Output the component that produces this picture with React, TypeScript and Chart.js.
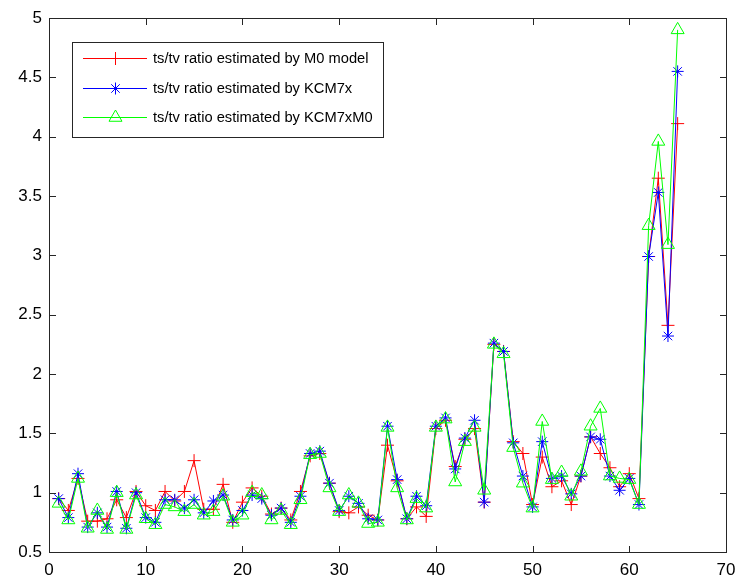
import React, { useEffect, useRef } from "react";
import { Chart, registerables } from "chart.js";

Chart.register(...registerables);

const xValues: number[] = Array.from({ length: 65 }, (_, i) => i + 1);

const seriesLabels: string[] = [
  "ts/tv ratio estimated by M0 model",
  "ts/tv ratio estimated by KCM7x",
  "ts/tv ratio estimated by KCM7xM0",
];

const xTickValues: number[] = [0, 10, 20, 30, 40, 50, 60, 70];
const yTickValues: number[] = [0.5, 1, 1.5, 2, 2.5, 3, 3.5, 4, 4.5, 5];

const redM0: number[] = [
  0.95, 0.85, 1.12, 0.76, 0.76, 0.78, 0.94, 0.79, 1.01, 0.89,
  0.85, 1.01, 0.93, 1.01, 1.27, 0.86, 0.86, 1.07, 0.75, 0.92,
  1.04, 0.97, 0.82, 0.87, 0.77, 1.01, 1.31, 1.33, 1.08, 0.84,
  0.83, 0.88, 0.81, 0.77, 1.40, 1.10, 0.78, 0.88, 0.80, 1.54,
  1.61, 1.22, 1.45, 1.54, 0.92, 2.25, 2.19, 1.43, 1.33, 0.90,
  1.30, 1.05, 1.10, 0.90, 1.14, 1.47, 1.33, 1.21, 1.05, 1.16,
  0.95, 2.99, 3.65, 2.41, 4.11,
];

const blueKCM7x: number[] = [
  0.95, 0.79, 1.16, 0.71, 0.83, 0.71, 1.01, 0.70, 1.00, 0.79,
  0.75, 0.94, 0.94, 0.87, 0.94, 0.83, 0.93, 0.98, 0.77, 0.85,
  0.98, 0.95, 0.81, 0.87, 0.75, 0.97, 1.33, 1.35, 1.08, 0.85,
  0.97, 0.91, 0.78, 0.77, 1.56, 1.11, 0.78, 0.97, 0.89, 1.56,
  1.63, 1.20, 1.46, 1.61, 0.92, 2.26, 2.19, 1.42, 1.14, 0.88,
  1.43, 1.12, 1.14, 0.99, 1.14, 1.47, 1.45, 1.14, 1.02, 1.12,
  0.90, 2.99, 3.53, 2.32, 4.55,
];

const greenKCM7xM0: number[] = [
  0.91, 0.77, 1.12, 0.70, 0.85, 0.69, 1.00, 0.69, 0.98, 0.78,
  0.73, 0.90, 0.88, 0.84, 0.90, 0.81, 0.84, 0.97, 0.75, 0.81,
  1.00, 0.98, 0.77, 0.85, 0.73, 0.94, 1.32, 1.33, 1.04, 0.84,
  0.98, 0.91, 0.74, 0.75, 1.55, 1.04, 0.77, 0.95, 0.87, 1.55,
  1.62, 1.09, 1.43, 1.55, 1.02, 2.25, 2.17, 1.38, 1.08, 0.87,
  1.60, 1.11, 1.17, 0.97, 1.18, 1.56, 1.71, 1.14, 1.12, 1.11,
  0.90, 3.25, 3.96, 3.09, 4.90,
];

const colors: string[] = ["#ff0000", "#0000ff", "#00ff00"];
const pointStyles: string[] = ["cross", "star", "triangle"];
const pointRadii: number[] = [6.5, 6, 7.5];

const FONT = '"Liberation Sans", Arial, sans-serif';
const AXIS_COLOR = "#262626";

function drawMarker(ctx: CanvasRenderingContext2D, style: string, x: number, y: number, r: number, color: string) {
  ctx.save();
  ctx.strokeStyle = color;
  ctx.lineWidth = 1;
  ctx.beginPath();
  if (style === "cross" || style === "star") {
    ctx.moveTo(x - r, y);
    ctx.lineTo(x + r, y);
    ctx.moveTo(x, y - r);
    ctx.lineTo(x, y + r);
    if (style === "star") {
      const d = r * Math.SQRT1_2;
      ctx.moveTo(x - d, y - d);
      ctx.lineTo(x + d, y + d);
      ctx.moveTo(x - d, y + d);
      ctx.lineTo(x + d, y - d);
    }
  } else if (style === "triangle") {
    const TWO_THIRDS_PI = (2 * Math.PI) / 3;
    let rad = 0;
    ctx.moveTo(x + Math.sin(rad) * r, y - Math.cos(rad) * r);
    rad += TWO_THIRDS_PI;
    ctx.lineTo(x + Math.sin(rad) * r, y - Math.cos(rad) * r);
    rad += TWO_THIRDS_PI;
    ctx.lineTo(x + Math.sin(rad) * r, y - Math.cos(rad) * r);
    ctx.closePath();
  }
  ctx.stroke();
  ctx.restore();
}

const boxPlugin = {
  id: "matlabBox",
  afterDraw(chart: any) {
    const ctx: CanvasRenderingContext2D = chart.ctx;
    const area = chart.chartArea;
    const xs = chart.scales.x;
    const ys = chart.scales.y;
    const L = Math.round(area.left);
    const R = Math.round(area.right);
    const T = Math.round(area.top);
    const B = Math.round(area.bottom);
    ctx.save();
    ctx.fillStyle = AXIS_COLOR;
    ctx.fillRect(L, T, R - L + 1, 1);
    ctx.fillRect(L, B, R - L + 1, 1);
    ctx.fillRect(L, T, 1, B - T + 1);
    ctx.fillRect(R, T, 1, B - T + 1);
    const tl = 7;
    xTickValues.forEach((v) => {
      const px = Math.round(xs.getPixelForValue(v));
      ctx.fillRect(px, B - tl + 1, 1, tl);
      ctx.fillRect(px, T, 1, tl);
    });
    yTickValues.forEach((v) => {
      const py = Math.round(ys.getPixelForValue(v));
      ctx.fillRect(L, py, tl, 1);
      ctx.fillRect(R - tl + 1, py, tl, 1);
    });

    const bx = 72.5, by = 42.5, bw = 311, bh = 95;
    ctx.fillStyle = "#ffffff";
    ctx.fillRect(bx, by, bw, bh);
    ctx.strokeStyle = AXIS_COLOR;
    ctx.lineWidth = 1;
    ctx.strokeRect(bx, by, bw, bh);
    const rows = [58, 88, 117];
    ctx.font = `14.7px ${FONT}`;
    ctx.textBaseline = "middle";
    ctx.textAlign = "left";
    seriesLabels.forEach((label, i) => {
      const y = rows[i] + 0.5;
      ctx.strokeStyle = colors[i];
      ctx.beginPath();
      ctx.moveTo(83, y);
      ctx.lineTo(147, y);
      ctx.stroke();
      drawMarker(ctx, pointStyles[i], 115.5, y, pointRadii[i], colors[i]);
      ctx.fillStyle = "#000000";
      ctx.fillText(label, 153, rows[i] + 1);
    });
    ctx.restore();
  },
};

export default function App() {
  const ref = useRef<HTMLCanvasElement | null>(null);

  useEffect(() => {
    document.body.style.margin = "0";
    const canvas = ref.current;
    if (!canvas) return;
    const seriesData = [redM0, blueKCM7x, greenKCM7xM0];
    const chart = new Chart(canvas, {
      type: "line",
      data: {
        labels: xValues,
        datasets: seriesData.map((vals, i) => ({
          label: seriesLabels[i],
          data: vals.map((v, j) => ({ x: xValues[j], y: v })),
          borderColor: colors[i],
          backgroundColor: "rgba(0,0,0,0)",
          borderWidth: 1,
          pointStyle: pointStyles[i] as any,
          pointRadius: pointRadii[i],
          pointBorderColor: colors[i],
          pointBackgroundColor: "rgba(0,0,0,0)",
          pointBorderWidth: 1,
          tension: 0,
          fill: false,
          order: 3 - i,
          clip: false as any,
        })),
      },
      options: {
        responsive: false,
        animation: false,
        devicePixelRatio: 1,
        layout: { padding: { left: 0, right: 13, top: 18, bottom: 0 } },
        plugins: {
          legend: { display: false },
          tooltip: { enabled: false },
          title: { display: false },
        },
        scales: {
          x: {
            type: "linear",
            min: 0,
            max: 70,
            grid: { display: false, drawTicks: true, tickLength: 8 },
            border: { display: false },
            ticks: {
              stepSize: 10,
              color: "#000",
              font: { family: FONT, size: 17 },
              padding: 0,
              maxRotation: 0,
              callback: (v: any) => String(v),
            },
            afterFit: (scale: any) => {
              scale.height = 32;
            },
          },
          y: {
            type: "linear",
            min: 0.5,
            max: 5,
            grid: { display: false, drawTicks: false },
            border: { display: false },
            ticks: {
              stepSize: 0.5,
              color: "#000",
              font: { family: FONT, size: 17 },
              padding: 7,
              callback: (v: any) => String(Math.round(Number(v) * 10) / 10),
            },
            afterFit: (scale: any) => {
              scale.width = 49;
            },
          },
        },
      },
      plugins: [boxPlugin],
    });
    return () => chart.destroy();
  }, []);

  return (
    <div style={{ width: 739, height: 584, background: "#fff" }}>
      <canvas ref={ref} width={739} height={584} style={{ display: "block" }} />
    </div>
  );
}
